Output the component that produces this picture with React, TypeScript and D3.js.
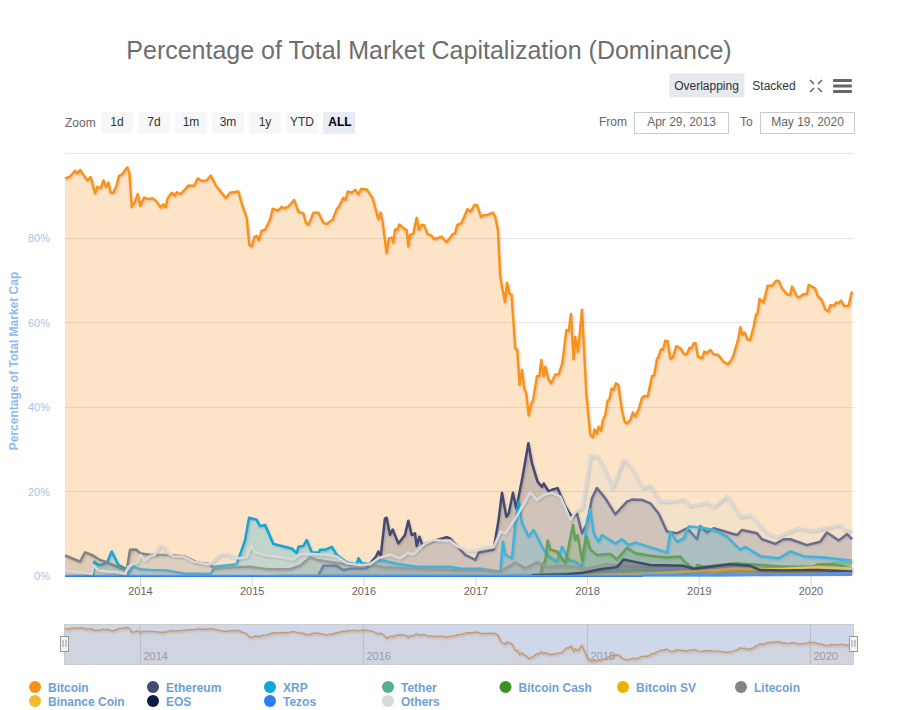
import React, { useEffect, useRef } from "react";
import * as d3 from "d3";

// every series: [decimal year, % of total market cap]
type Pt = [number, number];

const bitcoin: Pt[] = [
  [2013.329,94.1],[2013.373,94.5],[2013.418,95.9],[2013.439,95.3],[2013.463,96.1],[2013.499,94.7],[2013.529,93.6],[2013.558,94.4],[2013.597,90.6],[2013.618,92.1],[2013.648,91.8],[2013.672,93.6],[2013.696,92.1],[2013.717,93.1],[2013.737,90.7],[2013.761,90.7],[2013.791,92.5],[2013.812,94.7],[2013.842,95.1],[2013.866,96.1],[2013.887,96.7],[2013.905,95.3],[2013.925,87.4],[2013.955,88.6],[2013.979,90.4],
  [2014.003,87.6],[2014.036,89.6],[2014.066,89.2],[2014.113,89.4],[2014.149,88.6],[2014.185,87.2],[2014.209,88.0],[2014.23,87.3],[2014.248,89.4],[2014.284,90.7],[2014.313,90.0],[2014.328,90.8],[2014.364,90.4],[2014.433,92.4],[2014.483,92.3],[2014.516,94.1],[2014.552,93.5],[2014.597,93.6],[2014.633,94.8],[2014.68,92.3],[2014.716,91.2],[2014.767,89.4],[2014.806,90.7],[2014.88,91.0],[2014.91,88.2],[2014.955,84.7],[2014.979,78.3],
  [2015.0,78.0],[2015.024,80.2],[2015.044,80.5],[2015.065,79.5],[2015.089,81.7],[2015.119,81.9],[2015.164,84.3],[2015.188,86.9],[2015.238,86.5],[2015.268,87.4],[2015.289,87.0],[2015.328,87.4],[2015.379,89.0],[2015.418,86.2],[2015.462,85.8],[2015.486,83.6],[2015.507,83.1],[2015.522,83.9],[2015.552,86.0],[2015.596,86.0],[2015.641,83.6],[2015.671,83.3],[2015.725,84.4],[2015.761,86.8],[2015.784,87.6],[2015.82,89.5],[2015.841,89.0],[2015.859,91.0],[2015.895,90.7],[2015.925,91.4],[2015.955,90.3],[2015.979,91.6],
  [2016.029,91.5],[2016.083,89.4],[2016.134,84.4],[2016.154,86.0],[2016.172,83.9],[2016.208,76.4],[2016.229,79.9],[2016.253,80.1],[2016.268,78.9],[2016.283,82.0],[2016.304,81.9],[2016.322,83.2],[2016.372,82.0],[2016.387,81.9],[2016.402,78.0],[2016.417,80.7],[2016.447,81.1],[2016.477,84.8],[2016.498,81.9],[2016.522,83.1],[2016.542,83.1],[2016.575,80.9],[2016.611,80.5],[2016.632,79.7],[2016.701,80.3],[2016.745,79.0],[2016.799,80.9],[2016.82,81.1],[2016.841,83.1],[2016.88,83.6],[2016.93,86.8],[2016.96,86.2],[2016.993,87.8],
  [2017.014,87.8],[2017.05,85.0],[2017.074,85.4],[2017.103,85.4],[2017.157,86.0],[2017.178,85.0],[2017.202,81.9],[2017.223,70.9],[2017.238,68.5],[2017.265,64.8],[2017.283,69.4],[2017.306,66.9],[2017.324,66.5],[2017.357,53.9],[2017.375,53.5],[2017.396,45.2],[2017.417,48.8],[2017.438,44.4],[2017.456,43.1],[2017.477,38.0],[2017.497,40.5],[2017.515,41.5],[2017.551,47.3],[2017.572,47.3],[2017.59,51.1],[2017.611,47.3],[2017.626,49.5],[2017.656,46.4],[2017.677,45.6],[2017.715,47.7],[2017.745,47.7],[2017.778,50.3],[2017.814,58.2],[2017.835,58.0],[2017.856,62.0],[2017.879,51.3],[2017.894,56.6],[2017.918,53.1],[2017.954,63.0],[2017.993,43.2],
  [2018.029,33.4],[2018.052,32.8],[2018.067,34.7],[2018.088,33.6],[2018.103,35.3],[2018.124,34.4],[2018.142,36.9],[2018.163,38.1],[2018.184,41.5],[2018.199,41.8],[2018.22,44.4],[2018.238,44.0],[2018.258,45.6],[2018.279,45.2],[2018.312,39.3],[2018.336,36.5],[2018.357,36.1],[2018.387,36.9],[2018.411,38.7],[2018.431,37.7],[2018.461,39.4],[2018.491,42.1],[2018.512,42.6],[2018.542,42.5],[2018.581,47.3],[2018.601,47.5],[2018.625,51.3],[2018.64,51.8],[2018.661,53.7],[2018.679,53.5],[2018.7,55.7],[2018.721,55.5],[2018.745,51.4],[2018.769,51.8],[2018.798,54.4],[2018.834,53.9],[2018.87,52.5],[2018.894,52.5],[2018.915,54.0],[2018.933,53.8],[2018.954,55.1],[2018.971,55.1],[2018.992,51.9],
  [2019.031,51.5],[2019.049,53.1],[2019.073,52.7],[2019.103,53.5],[2019.133,52.5],[2019.174,52.3],[2019.222,50.7],[2019.261,50.1],[2019.288,51.0],[2019.312,52.3],[2019.356,56.3],[2019.371,58.9],[2019.392,57.0],[2019.41,57.6],[2019.437,56.0],[2019.461,55.9],[2019.491,59.0],[2019.512,61.8],[2019.527,62.3],[2019.544,65.6],[2019.58,64.7],[2019.616,68.7],[2019.655,68.7],[2019.694,69.9],[2019.715,69.8],[2019.744,68.1],[2019.789,66.7],[2019.819,66.5],[2019.834,68.5],[2019.879,66.1],[2019.894,65.9],[2019.938,66.7],[2019.968,66.7],[2019.983,68.9],
  [2020.043,68.0],[2020.064,66.3],[2020.102,65.3],[2020.132,63.1],[2020.162,62.6],[2020.177,64.1],[2020.213,64.0],[2020.231,64.8],[2020.249,64.5],[2020.273,65.2],[2020.302,63.9],[2020.341,63.9],[2020.371,67.3],
];

const ethereum: Pt[] = [
  [2015.597,0.2],[2015.641,2.4],[2015.761,2.4],[2015.82,1.4],[2015.88,1.7],[2016.029,1.8],[2016.074,3.4],[2016.113,4.6],[2016.134,5.8],[2016.155,4.7],[2016.193,13.6],[2016.208,13.8],[2016.238,9.7],[2016.262,11.0],[2016.313,7.7],[2016.372,9.7],[2016.402,13.1],[2016.432,9.7],[2016.462,10.1],[2016.477,7.1],[2016.501,9.3],[2016.531,7.1],[2016.551,7.7],[2016.745,9.2],[2016.775,8.9],[2016.835,7.1],[2016.91,5.0],
  [2017.0,3.8],[2017.029,5.5],[2017.163,6.2],[2017.208,13.3],[2017.238,19.7],[2017.277,14.0],[2017.298,14.8],[2017.336,19.7],[2017.366,16.0],[2017.417,22.7],[2017.474,31.4],[2017.506,26.7],[2017.557,22.3],[2017.596,21.1],[2017.611,21.9],[2017.656,20.0],[2017.685,20.4],[2017.736,20.8],[2017.805,16.4],[2017.864,14.0],[2017.909,14.8],[2017.954,10.1],[2017.999,12.5],
  [2018.044,18.4],[2018.088,20.8],[2018.163,18.4],[2018.252,14.6],[2018.357,17.6],[2018.402,18.1],[2018.491,18.0],[2018.566,17.2],[2018.64,14.8],[2018.715,10.5],[2018.805,10.1],[2018.894,11.3],[2018.984,8.7],
  [2019.013,11.8],[2019.073,10.3],[2019.133,11.3],[2019.342,9.7],[2019.386,10.9],[2019.521,10.1],[2019.565,8.7],[2019.685,7.6],[2019.76,8.7],[2019.819,8.7],[2019.968,7.3],[2020.088,8.1],[2020.147,10.3],[2020.252,8.4],[2020.327,9.9],[2020.371,8.7],
];

const xrp: Pt[] = [
  [2013.576,0.2],[2013.591,3.4],[2013.627,2.6],[2013.672,2.8],[2013.708,3.4],[2013.746,5.8],[2013.806,2.6],[2013.881,1.6],[2013.896,0.5],[2013.94,2.2],[2014.0,1.6],[2014.09,1.4],[2014.239,1.3],[2014.388,0.6],[2014.627,0.5],[2014.656,1.4],[2014.665,2.2],[2014.865,2.8],[2014.895,5.0],[2014.94,8.5],[2014.976,13.8],
  [2015.044,13.3],[2015.074,11.8],[2015.119,12.1],[2015.194,7.6],[2015.268,7.1],[2015.358,6.5],[2015.403,5.4],[2015.418,6.9],[2015.462,7.1],[2015.492,8.5],[2015.537,5.6],[2015.597,5.5],[2015.612,6.2],[2015.656,6.2],[2015.716,6.9],[2015.761,5.0],[2015.85,3.2],[2015.94,2.8],[2015.955,4.2],[2015.984,3.0],
  [2016.059,2.8],[2016.134,3.8],[2016.178,3.6],[2016.327,2.8],[2016.477,2.2],[2016.775,2.2],[2016.865,1.8],[2017.044,1.7],[2017.223,1.0],[2017.247,8.1],[2017.268,5.0],[2017.327,4.2],[2017.357,12.5],[2017.387,17.6],[2017.417,12.5],[2017.477,9.3],[2017.521,10.9],[2017.611,6.2],[2017.656,4.6],[2017.73,3.4],[2017.775,6.9],[2017.835,3.8],[2017.894,3.4],[2017.954,2.2],[2017.999,13.3],
  [2018.029,15.8],[2018.059,10.1],[2018.103,8.1],[2018.133,9.7],[2018.252,7.7],[2018.312,8.7],[2018.372,7.3],[2018.431,7.9],[2018.625,6.3],[2018.715,5.5],[2018.745,10.5],[2018.805,8.1],[2018.864,8.9],[2018.909,11.7],
  [2019.013,11.5],[2019.133,10.9],[2019.252,9.3],[2019.371,6.2],[2019.416,6.9],[2019.551,4.7],[2019.715,4.2],[2019.819,5.8],[2019.938,4.7],[2020.147,4.3],[2020.371,3.6],
];

const tether: Pt[] = [
  [2015.2,0.05],[2016.5,0.1],[2017.07,0.1],[2017.5,0.3],[2017.9,0.7],[2018.1,1.2],[2018.6,1.5],[2019.0,1.0],[2019.4,1.7],[2019.8,1.9],[2020.1,2.2],[2020.2,3.0],[2020.371,3.5],
];

const bitcoinCash: Pt[] = [
  [2017.587,0.2],[2017.596,2.2],[2017.626,3.8],[2017.647,8.4],[2017.67,6.2],[2017.73,5.8],[2017.805,3.0],[2017.873,12.1],[2017.894,8.5],[2017.915,9.7],[2017.954,3.8],[2017.993,9.3],[2018.029,6.2],[2018.088,5.0],[2018.208,5.2],[2018.267,3.9],[2018.357,6.7],[2018.431,5.4],[2018.566,4.8],[2018.715,4.4],[2018.834,4.6],[2018.864,3.6],[2018.924,2.2],[2018.969,1.7],[2018.984,2.6],[2019.043,2.2],[2019.342,3.0],[2019.76,2.2],[2020.028,2.2],[2020.073,2.8],[2020.207,2.8],[2020.371,1.8],
];

const bitcoinSV: Pt[] = [
  [2018.984,0.2],[2019.163,1.0],[2019.312,1.4],[2019.61,1.6],[2020.058,1.7],[2020.207,1.6],[2020.371,1.3],
];

const litecoin: Pt[] = [
  [2013.329,4.9],[2013.388,4.2],[2013.463,3.4],[2013.508,5.6],[2013.567,5.0],[2013.642,3.8],[2013.687,3.4],[2013.791,2.2],[2013.881,1.4],[2013.91,6.2],[2013.964,6.3],[2014.0,5.4],[2014.09,5.0],[2014.239,5.0],[2014.388,4.7],[2014.507,3.2],[2014.627,2.8],[2014.656,1.7],[2014.865,2.1],[2014.985,2.2],[2015.134,1.6],[2015.343,1.6],[2015.432,2.4],[2015.522,4.4],[2015.582,3.8],[2015.731,3.2],[2015.88,2.6],[2016.059,2.6],[2016.178,2.1],[2016.477,1.7],[2016.775,1.4],[2017.074,1.3],[2017.223,1.0],[2017.357,3.2],[2017.447,1.8],[2017.551,3.2],[2017.641,2.2],[2017.79,2.4],[2017.999,1.8],[2018.178,2.8],[2018.446,2.2],[2019.013,1.8],[2019.312,2.4],[2019.461,2.2],[2019.76,1.3],[2020.058,1.4],[2020.371,1.4],
];

const binanceCoin: Pt[] = [
  [2017.969,0.2],[2018.267,0.4],[2018.566,0.6],[2019.163,1.4],[2019.312,1.8],[2019.61,1.6],[2019.76,1.7],[2020.058,2.1],[2020.371,1.8],
];

const eos: Pt[] = [
  [2017.506,0.2],[2017.82,0.4],[2017.969,0.8],[2018.118,1.6],[2018.267,2.1],[2018.327,3.9],[2018.417,3.4],[2018.566,2.6],[2018.864,2.4],[2018.954,1.7],[2019.103,2.2],[2019.282,2.8],[2019.461,2.4],[2019.55,1.4],[2019.76,1.3],[2020.058,1.4],[2020.371,1.0],
];

const tezos: Pt[] = [
  [2013.329,0],[2018.49,0],[2018.5,0.2],[2019.2,0.2],[2019.8,0.3],[2020.1,0.5],[2020.371,0.7],
];

const others: Pt[] = [
  [2013.329,1.3],[2013.403,1.0],[2013.508,0.8],[2013.567,0.5],[2013.582,2.6],[2013.627,1.3],[2013.731,1.0],[2013.791,1.0],[2013.866,0.5],[2013.896,2.2],[2013.94,3.0],[2013.976,3.2],[2014.006,5.0],[2014.045,3.6],[2014.09,4.7],[2014.134,5.0],[2014.173,7.1],[2014.209,6.9],[2014.245,5.4],[2014.298,4.7],[2014.388,4.6],[2014.477,3.4],[2014.597,2.8],[2014.627,2.8],[2014.716,5.0],[2014.776,5.1],[2014.865,4.2],[2014.955,4.4],[2014.994,7.1],
  [2015.029,5.8],[2015.104,5.0],[2015.194,4.7],[2015.283,4.4],[2015.373,3.9],[2015.432,5.2],[2015.552,5.2],[2015.671,5.0],[2015.761,4.6],[2015.85,3.0],[2015.969,2.6],[2016.059,2.8],[2016.134,4.2],[2016.238,5.1],[2016.328,4.2],[2016.402,5.5],[2016.447,5.1],[2016.551,7.7],[2016.626,8.5],[2016.745,8.3],[2016.775,8.4],[2016.835,7.1],[2016.925,6.0],
  [2017.0,6.0],[2017.074,6.8],[2017.163,6.8],[2017.223,10.5],[2017.268,10.1],[2017.357,13.6],[2017.491,19.8],[2017.551,18.0],[2017.611,19.2],[2017.685,19.7],[2017.76,18.8],[2017.85,13.3],[2017.909,15.6],[2017.954,16.0],
  [2018.029,28.4],[2018.088,28.4],[2018.163,25.1],[2018.223,20.8],[2018.327,27.6],[2018.417,24.7],[2018.491,20.8],[2018.566,21.5],[2018.64,17.8],[2018.745,17.6],[2018.864,18.1],[2018.924,16.6],
  [2019.073,17.4],[2019.133,16.3],[2019.252,18.9],[2019.371,14.0],[2019.461,14.4],[2019.61,10.1],[2019.7,9.3],[2019.879,11.3],[2020.028,10.7],[2020.147,11.5],[2020.267,12.1],[2020.296,10.9],[2020.371,10.7],
];

const seriesNames = ["Bitcoin", "Ethereum", "XRP", "Tether", "Bitcoin Cash", "Bitcoin SV", "Litecoin", "Binance Coin", "EOS", "Tezos", "Others"];
const seriesData = [bitcoin, ethereum, xrp, tether, bitcoinCash, bitcoinSV, litecoin, binanceCoin, eos, tezos, others];
const seriesColors = ["#f7931a", "#454a75", "#0ea7dc", "#50af95", "#3c8f2b", "#eab300", "#838383", "#f3ba2f", "#0e1a45", "#2c7df7", "#d8d8d8"];

// legend is laid out column by column
const legendRows = [
  ["Bitcoin", "Ethereum", "XRP", "Tether", "Bitcoin Cash", "Bitcoin SV", "Litecoin"],
  ["Binance Coin", "EOS", "Tezos", "Others"],
];
const zoomButtons = ["1d", "7d", "1m", "3m", "1y", "YTD", "ALL"];
const yTicks = [0, 20, 40, 60, 80];
const xTickYears = [2014, 2015, 2016, 2017, 2018, 2019, 2020];
const navTickYears = [2014, 2016, 2018, 2020];

const FONT = "'Liberation Sans', Arial, sans-serif";

const toDate = (t: number) => {
  const year = Math.floor(t);
  return new Date(Date.UTC(year, 0, 1) + (t - year) * 365.25 * 864e5);
};

export default function App() {
  const svgRef = useRef<SVGSVGElement | null>(null);

  useEffect(() => {
    if (!svgRef.current) return;
    const svg = d3.select(svgRef.current);
    svg.selectAll("*").remove();

    const x = d3
      .scaleUtc()
      .domain([new Date(Date.UTC(2013, 3, 29)), new Date(Date.UTC(2020, 4, 19))])
      .range([64.4, 853]);
    const y = d3.scaleLinear().domain([0, 100]).range([576, 153.5]);
    const navY = d3.scaleLinear().domain([32.8, 96.7]).range([661.5, 627.5]);

    const shadow = svg
      .append("defs")
      .append("filter")
      .attr("id", "lineShadow")
      .attr("x", "-5%")
      .attr("y", "-5%")
      .attr("width", "110%")
      .attr("height", "110%");
    shadow
      .append("feDropShadow")
      .attr("dx", 1)
      .attr("dy", 1)
      .attr("stdDeviation", 1)
      .attr("flood-color", "#000")
      .attr("flood-opacity", 0.18);

    const label = (
      px: number,
      py: number,
      s: string,
      size = 12,
      fill = "#333",
      anchor = "start",
      weight = "normal"
    ) =>
      svg
        .append("text")
        .attr("x", px)
        .attr("y", py)
        .attr("font-family", FONT)
        .attr("font-size", size)
        .attr("font-weight", weight)
        .attr("fill", fill)
        .attr("text-anchor", anchor)
        .text(s);

    // title
    label(429, 59, "Percentage of Total Market Capitalization (Dominance)", 25, "#6e6e6e", "middle");

    // toggle + export buttons
    svg.append("rect").attr("x", 669.5).attr("y", 73.5).attr("width", 75).attr("height", 24).attr("rx", 2).attr("fill", "#e6e9ed");
    label(706.5, 90, "Overlapping", 12, "#333", "middle");
    label(774, 90, "Stacked", 12, "#333", "middle");

    // fullscreen icon, four little arrows
    const arrows = ["M810 80l4 4", "M822 80l-4 4", "M810 92l4 -4", "M822 92l-4 -4"];
    svg.append("path").attr("d", arrows.join("")).attr("stroke", "#666").attr("stroke-width", 1.6).attr("fill", "none");
    svg
      .selectAll("rect.burger")
      .data([0, 1, 2])
      .join("rect")
      .attr("class", "burger")
      .attr("x", 833)
      .attr("y", (i) => 79 + i * 5.5)
      .attr("width", 19)
      .attr("height", 3)
      .attr("rx", 1)
      .attr("fill", "#666");

    // range selector
    label(65, 127, "Zoom", 12, "#666");
    zoomButtons.forEach((b, i) => {
      const bx = 101 + i * 37;
      const on = b === "ALL";
      svg.append("rect").attr("x", bx).attr("y", 112).attr("width", 32).attr("height", 22).attr("rx", 2).attr("fill", on ? "#e6ebf5" : "#f7f7f7");
      label(bx + 16 + (on ? 1 : 0), 126, b, 12, on ? "#000" : "#333", "middle", on ? "bold" : "normal");
    });
    label(599, 126, "From", 12, "#666");
    label(740, 126, "To", 12, "#666");
    [[634.5, "Apr 29, 2013"], [760.5, "May 19, 2020"]].forEach(([bx, s]) => {
      svg.append("rect").attr("x", bx as number).attr("y", 112.5).attr("width", 94).attr("height", 21).attr("fill", "#fff").attr("stroke", "#ccc");
      label((bx as number) + 47, 126, s as string, 12, "#666", "middle");
    });

    // grid
    svg
      .selectAll("line.grid")
      .data([...yTicks.slice(1), 100])
      .join("line")
      .attr("class", "grid")
      .attr("x1", 65)
      .attr("x2", 854)
      .attr("y1", (d) => Math.floor(y(d)) + 0.5)
      .attr("y2", (d) => Math.floor(y(d)) + 0.5)
      .attr("stroke", "#e6e6e6");

    // axes
    const xAxis = d3
      .axisBottom(x)
      .tickValues(xTickYears.map((yr) => new Date(Date.UTC(yr, 0, 1))))
      .tickFormat((d) => String((d as Date).getUTCFullYear()))
      .tickSize(10)
      .tickPadding(1);
    const xg = svg.append("g").attr("transform", "translate(0,576)").call(xAxis as any);
    xg.select(".domain").remove();
    xg.selectAll("line").attr("stroke", "#ccd6eb");
    xg.selectAll("text").attr("font-family", FONT).attr("font-size", 11).attr("fill", "#666");

    const yAxis = d3.axisLeft(y).tickValues(yTicks).tickFormat((d) => `${d}%`).tickSize(0).tickPadding(0);
    const yg = svg.append("g").attr("transform", "translate(50,0)").call(yAxis as any);
    yg.select(".domain").remove();
    yg.selectAll("text").attr("font-family", FONT).attr("font-size", 11).attr("fill", "#a3c4f0");

    svg
      .append("text")
      .attr("transform", "translate(18,361) rotate(-90)")
      .attr("text-anchor", "middle")
      .attr("font-family", FONT)
      .attr("font-size", 12)
      .attr("font-weight", "bold")
      .attr("fill", "#8dbbef")
      .text("Percentage of Total Market Cap");

    // overlapping areas
    const area = d3
      .area<Pt>()
      .x((d) => x(toDate(d[0])))
      .y0(y(0))
      .y1((d) => y(d[1]));
    const line = d3
      .line<Pt>()
      .x((d) => x(toDate(d[0])))
      .y((d) => y(d[1]));

    seriesData.forEach((data, i) => {
      const g = svg.append("g").attr("class", seriesNames[i]);
      g.append("path").attr("d", area(data)).attr("fill", seriesColors[i]).attr("fill-opacity", 0.25);
      g.append("path")
        .attr("d", line(data))
        .attr("fill", "none")
        .attr("stroke", seriesColors[i])
        .attr("stroke-width", 2.5)
        .attr("stroke-linejoin", "round")
        .attr("filter", "url(#lineShadow)");
    });

    // navigator
    svg.append("rect").attr("x", 64.5).attr("y", 624.5).attr("width", 789).attr("height", 40).attr("fill", "#ced8ea").attr("stroke", "#cccccc");
    const navArea = d3
      .area<Pt>()
      .x((d) => x(toDate(d[0])))
      .y0(664)
      .y1((d) => navY(d[1]));
    const navLine = d3
      .line<Pt>()
      .x((d) => x(toDate(d[0])))
      .y((d) => navY(d[1]));
    svg.append("path").attr("d", navArea(bitcoin)).attr("fill", "#f7931a").attr("fill-opacity", 0.05);
    navTickYears.forEach((yr) => {
      const tx = Math.round(x(new Date(Date.UTC(yr, 0, 1)))) + 0.5;
      svg.append("line").attr("x1", tx).attr("x2", tx).attr("y1", 625).attr("y2", 664).attr("stroke", "#b9bfcd");
      label(tx + 3, 660, String(yr), 11, "#999aa5");
    });
    svg.append("path").attr("d", navLine(bitcoin)).attr("fill", "none").attr("stroke", "#cb9a6c").attr("stroke-width", 1.5).attr("filter", "url(#lineShadow)");
    [64.5, 853.5].forEach((hx) => {
      svg.append("rect").attr("x", hx - 4).attr("y", 636.5).attr("width", 8).attr("height", 15).attr("fill", "#f2f2f2").attr("stroke", "#999");
      svg.append("path").attr("d", `M${hx - 1.5} 640v7M${hx + 1.5} 640v7`).attr("stroke", "#999");
    });

    // legend
    const colX = [35, 153, 270, 388, 505.5, 623, 741];
    legendRows.forEach((row, r) => {
      row.forEach((name, c) => {
        const ly = 687 + r * 14;
        svg.append("circle").attr("cx", colX[c]).attr("cy", ly).attr("r", 6).attr("fill", seriesColors[seriesNames.indexOf(name)]);
        label(colX[c] + 13, ly + 5, name, 12, "#6ea0d8", "start", "bold");
      });
    });
  }, []);

  return (
    <svg
      ref={svgRef}
      width={898}
      height={710}
      style={{ position: "absolute", left: 0, top: 0, display: "block" }}
    />
  );
}
